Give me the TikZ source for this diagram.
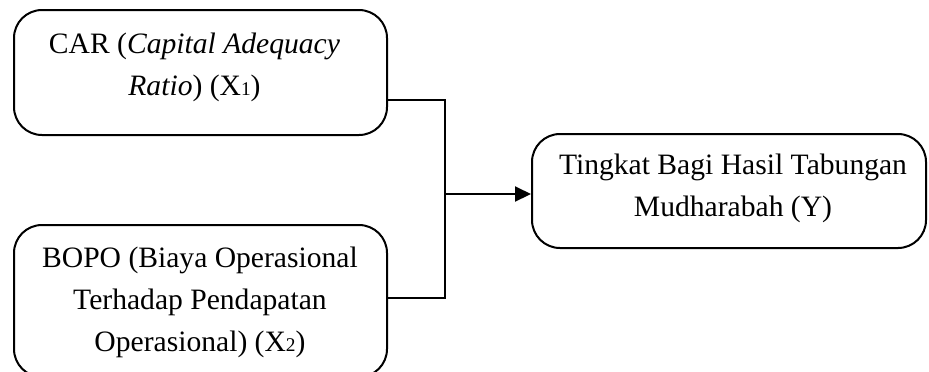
\documentclass[tikz,border=0pt]{standalone}
\usepackage{fontspec}
\setmainfont{Liberation Serif}
\usetikzlibrary{arrows.meta}
\newcommand{\smallsub}[1]{{\fontsize{9.7}{9.7}\selectfont #1}}
\begin{document}
\begin{tikzpicture}[x=0.5pt,y=-0.5pt,
  boxstyle/.style={draw, line width=1pt, rounded corners=14pt, inner sep=0pt},
  txt/.style={align=center, inner sep=0pt, font=\fontsize{14.8}{21}\selectfont},
  link/.style={line width=1pt}]
\clip (0,0) rectangle (929,371);
\useasboundingbox (0,0) rectangle (929,371);
% boxes
\node[boxstyle, minimum width=186.5pt, minimum height=62.5pt] (top) at (200.5,72.5) {};
\node[boxstyle, minimum width=186.5pt, minimum height=76pt] (bot) at (200.5,301) {};
\node[boxstyle, minimum width=197pt, minimum height=57pt] (res) at (729,191) {};
% texts
\node[txt] (toptext) at (194.5,67) {CAR (\textit{Capital Adequacy}\\\textit{Ratio}) (X\smallsub{1})};
\node[txt] (bottext) at (200,302) {BOPO (Biaya Operasional\\Terhadap Pendapatan\\Operasional) (X\smallsub{2})};
\node[txt] (restext) at (733,188) {Tingkat Bagi Hasil Tabungan\\Mudharabah (Y)};
% connectors
\coordinate (ya) at (0,99.5);
\coordinate (yb) at (0,298);
\coordinate (j) at (445,194);
\draw[link] (top.east |- ya) -- (j |- ya) -- (j |- yb) -- (bot.east |- yb);
\draw[link, -{Triangle[length=8pt,width=7.5pt]}] (j) -- (res.west |- j);
\end{tikzpicture}
\end{document}
